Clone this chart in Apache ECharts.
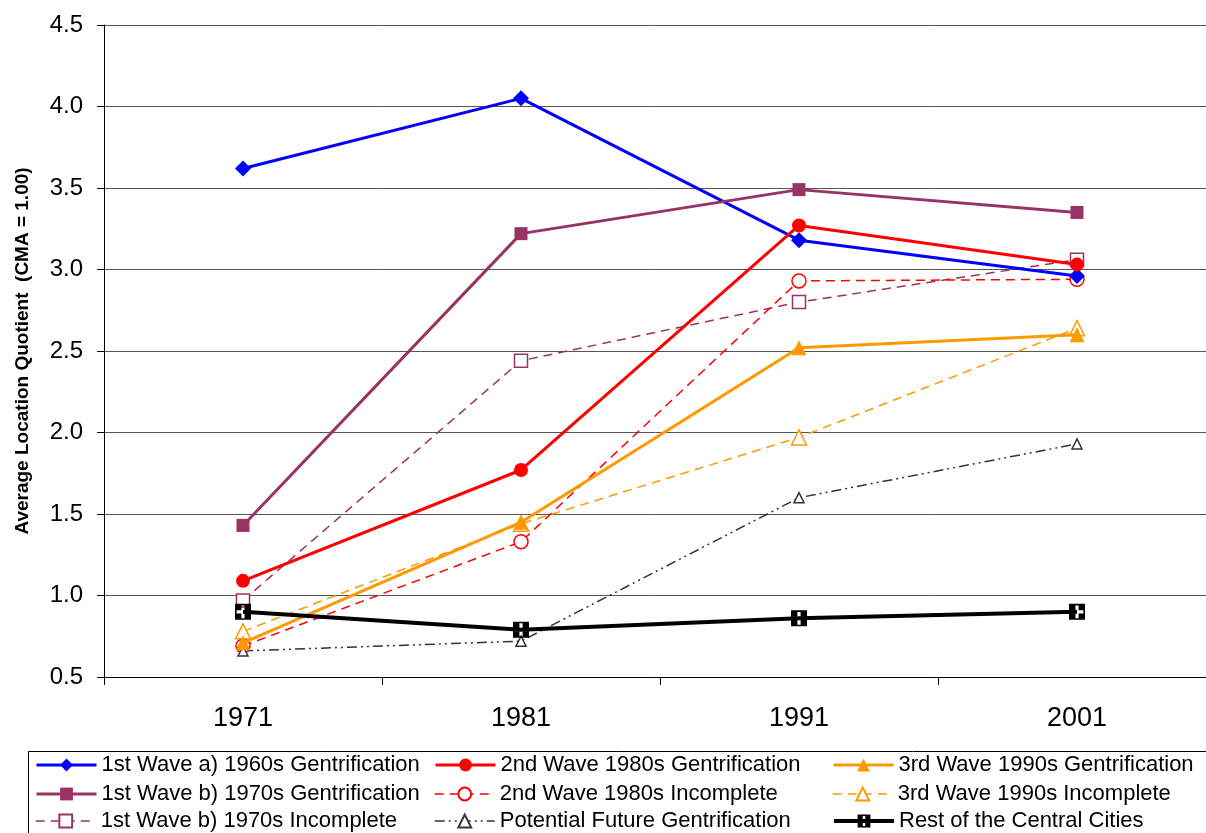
<!DOCTYPE html>
<html>
<head>
<meta charset="utf-8">
<script src="https://cdn.jsdelivr.net/npm/echarts@6/dist/echarts.min.js"></script>
<style>
  html, body { margin: 0; padding: 0; background: #fff; }
  #chart { width: 1206px; height: 833px; }
</style>
</head>
<body>
<div id="chart"></div>
<script>
// Census years on the category axis
const years = ['1971', '1981', '1991', '2001'];

// Average location quotient by neighbourhood group (CMA = 1.00)
const wave1a = [3.62, 4.05, 3.18, 2.96];
const wave1b = [1.43, 3.22, 3.49, 3.35];
const wave1bIncomplete = [0.97, 2.44, 2.80, 3.06];
const wave2 = [1.09, 1.77, 3.27, 3.03];
const wave2Incomplete = [0.69, 1.33, 2.93, 2.94];
const wave3 = [0.71, 1.45, 2.52, 2.60];
const wave3Incomplete = [0.78, 1.44, 1.97, 2.64];
const potentialFuture = [0.66, 0.72, 1.60, 1.93];
const restOfCities = [0.90, 0.79, 0.86, 0.90];

const yTicks = { min: 0.5, max: 4.5, interval: 0.5 };

// black square with a white plus cut out of it
const crossSquare = 'path://M0,0L10,0L10,10L0,10Z M4,1L4,4L1,4L1,6L4,6L4,9L6,9L6,6L9,6L9,4L6,4L6,1Z';

const PURPLE = '#993366', BLUE = '#0000ff', RED = '#ff0000', ORANGE = '#ff9900', GRAY = '#333333';
const FONT = 'Liberation Sans, Arial, sans-serif';

function solid(name, data, color, symbol, size, width, z) {
  return {
    name, type: 'line', data, symbol, symbolSize: size, z: z || 3,
    lineStyle: { color, width: width || 3 },
    itemStyle: { color, borderColor: color, borderWidth: 0 },
    emphasis: { disabled: true }
  };
}
function hollow(name, data, color, symbol, size, dash, z) {
  return {
    name, type: 'line', data, symbol, symbolSize: size, z: z || 2,
    lineStyle: { color, width: 1.5, type: dash },
    itemStyle: { color: '#ffffff', borderColor: color, borderWidth: 1.5 },
    emphasis: { disabled: true }
  };
}

const series = [
  solid('1st Wave a) 1960s Gentrification', wave1a, BLUE, 'diamond', 16),
  solid('1st Wave b) 1970s Gentrification', wave1b, PURPLE, 'rect', 13),
  hollow('1st Wave b) 1970s Incomplete', wave1bIncomplete, PURPLE, 'rect', 13, [9, 6]),
  solid('2nd Wave 1980s Gentrification', wave2, RED, 'circle', 14),
  hollow('2nd Wave 1980s Incomplete', wave2Incomplete, RED, 'circle', 14, [9, 6]),
  hollow('Potential Future Gentrification', potentialFuture, GRAY, 'triangle', 10, [10, 4, 2, 4, 2, 4]),
  solid('3rd Wave 1990s Gentrification', wave3, ORANGE, 'triangle', 15),
  hollow('3rd Wave 1990s Incomplete', wave3Incomplete, ORANGE, 'triangle', 15, [9, 6]),
  solid('Rest of the Central Cities', restOfCities, '#000000', crossSquare, 16, 4, 4)
];

// legend laid out as a 3 x 3 table: one single-entry legend per cell
const legendCols = [35, 434, 832];
const legendRows = [754, 783, 810];
const legendOrder = [
  ['1st Wave a) 1960s Gentrification', '1st Wave b) 1970s Gentrification', '1st Wave b) 1970s Incomplete'],
  ['2nd Wave 1980s Gentrification', '2nd Wave 1980s Incomplete', 'Potential Future Gentrification'],
  ['3rd Wave 1990s Gentrification', '3rd Wave 1990s Incomplete', 'Rest of the Central Cities']
];
const legends = [];
legendOrder.forEach((col, ci) => col.forEach((name, ri) => {
  const s = series.find(x => x.name === name);
  legends.push({
    orient: 'horizontal', left: legendCols[ci], top: legendRows[ri],
    itemWidth: 60, itemHeight: 16, padding: 0, selectedMode: false,
    textStyle: { fontFamily: FONT, fontSize: 22, color: '#000' },
    data: [{ name, lineStyle: { width: s.lineStyle.width } }]
  });
}));

const chart = echarts.init(document.getElementById('chart'), null, { renderer: 'canvas' });
chart.setOption({
  animation: false,
  backgroundColor: '#ffffff',
  grid: { left: 104, top: 25, width: 1112, height: 652, containLabel: false, outerBoundsMode: 'none' },
  xAxis: {
    type: 'category', data: years, boundaryGap: true,
    axisLine: { lineStyle: { color: '#000', width: 1 } },
    axisTick: { show: true, length: 8, lineStyle: { color: '#000' } },
    axisLabel: { fontFamily: FONT, fontSize: 27, color: '#000', margin: 28 }
  },
  yAxis: {
    type: 'value', min: yTicks.min, max: yTicks.max, interval: yTicks.interval,
    name: 'Average Location Quotient  (CMA = 1.00)', nameLocation: 'middle', nameGap: 72,
    nameTextStyle: { fontFamily: FONT, fontSize: 19, fontWeight: 'bold', color: '#000' },
    axisLine: { show: true, lineStyle: { color: '#000', width: 1 } },
    axisTick: { show: true, inside: false, length: 7, lineStyle: { color: '#000' } },
    axisLabel: { fontFamily: FONT, fontSize: 24, color: '#000', margin: 21,
      formatter: v => v.toFixed(1) },
    splitLine: { show: true, lineStyle: { color: '#555', width: 1 } }
  },
  legend: legends,
  graphic: [{
    type: 'rect', shape: { x: 28.5, y: 751.5, width: 1200, height: 100 },
    style: { fill: 'none', stroke: '#000', lineWidth: 1 }, silent: true
  }],
  series
});
</script>
</body>
</html>
